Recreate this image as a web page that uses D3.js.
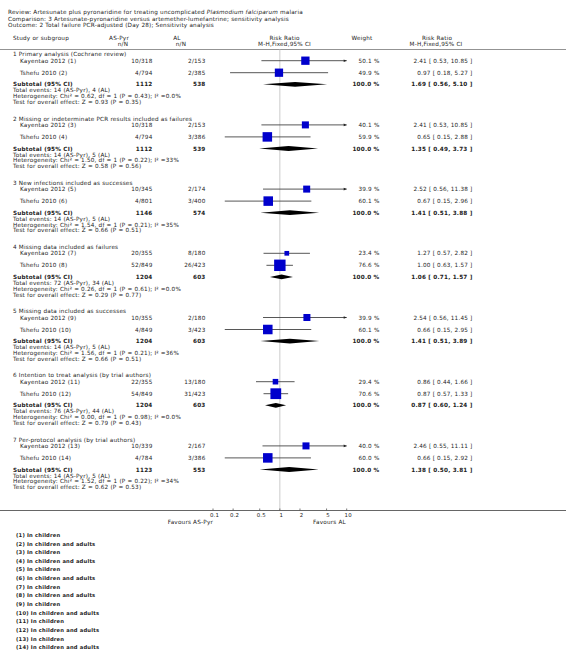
<!DOCTYPE html>
<html><head><meta charset="utf-8">
<script src="https://cdn.jsdelivr.net/npm/d3@7"></script>
<style>
body{margin:0;background:#fff}
svg{display:block}
text{font-family:"DejaVu Sans",Verdana,sans-serif;fill:#222}
</style>
</head><body><svg id="c" width="566" height="665"></svg>
<script>
// ---------- data ----------
const subgroups = [
  "1 Primary analysis (Cochrane review)",
  "2 Missing or indeterminate PCR results included as failures",
  "3 New infections included as successes",
  "4 Missing data included as failures",
  "5 Missing data included as successes",
  "6 Intention to treat analysis (by trial authors)",
  "7 Per-protocol analysis (by trial authors)"
];
const studyNames = ["Kayentao 2012 (1)","Tshefu 2010 (2)","Kayentao 2012 (3)","Tshefu 2010 (4)",
  "Kayentao 2012 (5)","Tshefu 2010 (6)","Kayentao 2012 (7)","Tshefu 2010 (8)",
  "Kayentao 2012 (9)","Tshefu 2010 (10)","Kayentao 2012 (11)","Tshefu 2010 (12)",
  "Kayentao 2012 (13)","Tshefu 2010 (14)"];
const asPyrNN = ["10/318","4/794","10/318","4/794","10/345","4/801","20/355","52/849","10/355","4/849","22/355","54/849","10/339","4/784"];
const alNN = ["2/153","2/385","2/153","3/386","2/174","3/400","8/180","26/423","2/180","3/423","13/180","31/423","2/167","3/386"];
const studyWeight = [50.1,49.9,40.1,59.9,39.9,60.1,23.4,76.6,39.9,60.1,29.4,70.6,40.0,60.0];
const studyRR = [2.41,0.97,2.41,0.65,2.52,0.67,1.27,1.00,2.54,0.66,0.86,0.87,2.46,0.66];
const studyLo = [0.53,0.18,0.53,0.15,0.56,0.15,0.57,0.63,0.56,0.15,0.44,0.57,0.55,0.15];
const studyHi = [10.85,5.27,10.85,2.88,11.38,2.96,2.82,1.57,11.45,2.95,1.66,1.33,11.11,2.92];
const subAsPyrN = [1112,1112,1146,1204,1204,1204,1123];
const subAlN = [538,539,574,603,603,603,553];
const subRR = [1.69,1.35,1.41,1.06,1.41,0.87,1.38];
const subLo = [0.56,0.49,0.51,0.71,0.51,0.60,0.50];
const subHi = [5.10,3.73,3.88,1.57,3.89,1.24,3.81];
const eventsAsPyr = [14,14,14,72,14,76,14];
const eventsAL = [4,5,5,34,5,44,5];
const hetChi2 = ["0.62","1.50","1.54","0.26","1.56","0.00","1.52"];
const hetP = ["0.43","0.22","0.21","0.61","0.21","0.98","0.22"];
const hetI2 = ["0.0%","33%","35%","0.0%","36%","0.0%","34%"];
const testZ = ["0.93","0.58","0.66","0.29","0.66","0.79","0.62"];
const testP = ["0.35","0.56","0.51","0.77","0.51","0.43","0.53"];
const axisTicks = [0.1,0.2,0.5,1,2,5,10];
const tickLabels = ["0.1","0.2","0.5","1","2","5","10"];
const footnotes = ["In children","In children and adults","In children","In children and adults",
  "In children","In children and adults","In children","In children and adults","In children",
  "In children and adults","In children","In children and adults","In children","In children and adults"];

// ---------- layout ----------
const svg = d3.select("#c");
const FS = 5.7, LS = 0.2;
const x = d3.scaleLog().domain([0.1,10]).range([213,346.7]);
const box = d3.scalePow().exponent(0.75).domain([0,50]).range([0,8.3]);
const P = 64.2, Y0 = 54.3;
const off = {title:0, s1:6.4, s2:18.4, sub:30, tot:36, het:41.8, test:47.6};

function t(xp, y, s, anchor, bold, size){
  return svg.append("text").attr("x",xp).attr("y",y+ (size||FS)*0.36)
    .attr("font-size",size||FS).attr("letter-spacing",LS).attr("text-anchor",anchor||"start")
    .attr("font-weight",bold?"bold":null).text(s);
}

// header
const rv = svg.append("text").attr("x",8).attr("y",12.4+FS*0.36).attr("font-size",FS).attr("letter-spacing",LS);
rv.append("tspan").text("Review:  Artesunate plus pyronaridine for treating uncomplicated ");
rv.append("tspan").attr("font-style","italic").text("Plasmodium falciparum");
rv.append("tspan").text(" malaria");
t(8,18.7,"Comparison:  3 Artesunate-pyronaridine versus artemether-lumefantrine; sensitivity analysis");
t(8,25,"Outcome:  2 Total failure PCR-adjusted (Day 28); Sensitivity analysis");

t(13,38.3,"Study or subgroup");
t(119,38.3,"AS-Pyr","middle");
t(123,44.3,"n/N","middle");
t(177,38.3,"AL","middle");
t(181,44.3,"n/N","middle");
t(284.5,38.3,"Risk Ratio","middle");
t(284.5,44.3,"M-H,Fixed,95% CI","middle");
t(362,38.3,"Weight","middle");
t(437,38.3,"Risk Ratio","middle");
t(436,44.3,"M-H,Fixed,95% CI","middle");

svg.append("line").attr("x1",0).attr("x2",566).attr("y1",49.5).attr("y2",49.5)
  .attr("stroke","#777").attr("stroke-width",0.8);

// reference line at RR = 1
svg.append("line").attr("x1",x(1)).attr("x2",x(1)).attr("y1",49.5).attr("y2",510)
  .attr("stroke","#ccc").attr("stroke-width",1);

const fmt = d3.format(".2f");
subgroups.forEach((g,i)=>{
  const y = Y0 + i*P;
  t(13, y+off.title, g);
  [0,1].forEach(k=>{
    const j = i*2+k;
    const yy = y + (k===0?off.s1:off.s2);
    t(20, yy, studyNames[j]);
    t(152.5, yy, asPyrNN[j], "end");
    t(205.5, yy, alNN[j], "end");
    t(379.5, yy, studyWeight[j].toFixed(1)+" %", "end");
    t(472.5, yy, fmt(studyRR[j])+" [ "+fmt(studyLo[j])+", "+fmt(studyHi[j])+" ]", "end");
    const lo = Math.max(studyLo[j],0.1), hi = Math.min(studyHi[j],10);
    svg.append("line").attr("x1",x(lo)).attr("x2",x(hi)).attr("y1",yy).attr("y2",yy)
      .attr("stroke","#444").attr("stroke-width",0.9);
    if(studyHi[j]>10){
      const ax = x(10);
      svg.append("path").attr("d",`M${ax},${yy} L${ax-3},${yy-1.3} L${ax-3},${yy+1.3} Z`).attr("fill","#222");
    }
    const s = box(studyWeight[j]);
    svg.append("rect").attr("x",x(studyRR[j])-s/2).attr("y",yy-s/2).attr("width",s).attr("height",s)
      .attr("fill","#0000cc");
  });
  const ys = y+off.sub;
  t(13, ys, "Subtotal (95% CI)", "start", true);
  t(152.5, ys, String(subAsPyrN[i]), "end", true);
  t(205.5, ys, String(subAlN[i]), "end", true);
  t(379.5, ys, "100.0 %", "end", true);
  t(472.5, ys, fmt(subRR[i])+" [ "+fmt(subLo[i])+", "+fmt(subHi[i])+" ]", "end", true);
  const h = 2.4;
  svg.append("path").attr("d",`M${x(subLo[i])},${ys} L${x(subRR[i])},${ys-h} L${x(subHi[i])},${ys} L${x(subRR[i])},${ys+h} Z`)
    .attr("fill","#000");
  t(13, y+off.tot, `Total events: ${eventsAsPyr[i]} (AS-Pyr), ${eventsAL[i]} (AL)`);
  t(13, y+off.het, `Heterogeneity: Chi² = ${hetChi2[i]}, df = 1 (P = ${hetP[i]}); I² =${hetI2[i]}`);
  t(13, y+off.test, `Test for overall effect: Z = ${testZ[i]} (P = ${testP[i]})`);
});

// axis
const ay = 510.5;
svg.append("line").attr("x1",0).attr("x2",566).attr("y1",ay).attr("y2",ay)
  .attr("stroke","#555").attr("stroke-width",0.9);
axisTicks.forEach((v,i)=>{
  svg.append("line").attr("x1",x(v)).attr("x2",x(v)).attr("y1",ay-2).attr("y2",ay)
    .attr("stroke","#555").attr("stroke-width",0.8);
  t(x(v)+1.5, 515.5, tickLabels[i], "middle", false, 5.4);
});
t(213, 522, "Favours AS-Pyr", "end");
t(313, 522, "Favours AL", "start");

// footnotes
footnotes.forEach((f,i)=>{
  t(16, 535 + i*8.65, `(${i+1}) ${f}`, "start", true, 5.2);
});
</script>
</body></html>
